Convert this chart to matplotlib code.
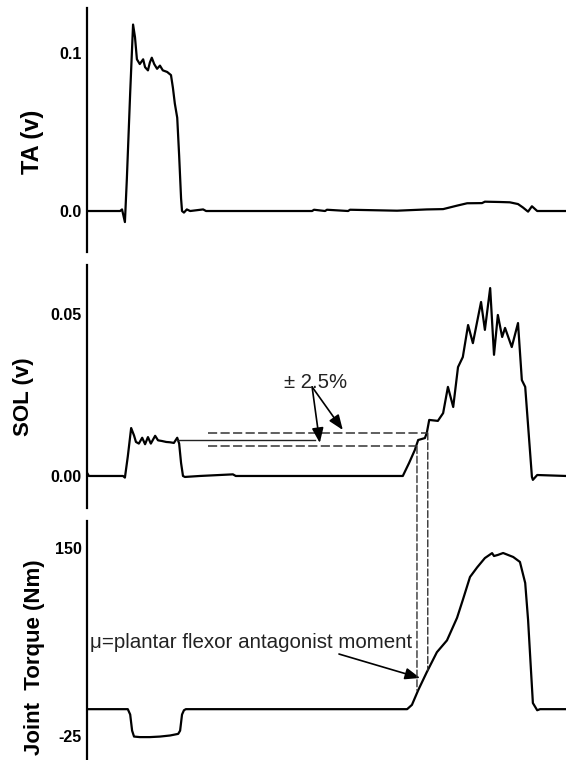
import matplotlib
matplotlib.use("Agg")
import matplotlib.pyplot as plt
from matplotlib.patches import ConnectionPatch

plt.rcParams['font.family'] = ['Liberation Sans', 'DejaVu Sans']

# time (s) and signal values
ta_t = [0.00, 0.69, 0.73, 0.79, 0.83, 0.90, 0.96, 1.00, 1.04, 1.10, 1.17, 1.21, 1.27, 1.31,
        1.35, 1.40, 1.46, 1.52, 1.58, 1.67, 1.75, 1.79, 1.83, 1.88, 1.92, 1.96, 1.98, 2.02,
        2.08, 2.15, 2.42, 2.48, 4.69, 4.73, 4.96, 5.00, 5.44, 5.48, 6.46, 7.08, 7.42, 7.71,
        7.92, 8.23, 8.29, 8.60, 8.81, 8.98, 9.08, 9.19, 9.27, 9.38, 9.98]
ta_v = [0.0, 0.0, 0.001, -0.007, 0.02, 0.075, 0.118, 0.11, 0.096, 0.093, 0.096, 0.091, 0.089,
        0.094, 0.097, 0.093, 0.090, 0.092, 0.089, 0.088, 0.086, 0.078, 0.068, 0.059, 0.035,
        0.008, 0.0, -0.001, 0.001, 0.0, 0.001, 0.0, 0.0, 0.0008, 0.0, 0.0008, 0.0, 0.0008,
        0.0002, 0.001, 0.0012, 0.0034, 0.0049, 0.005, 0.0059, 0.0057, 0.0055, 0.0044, 0.0023,
        -0.0004, 0.003, 0.0, 0.0]

sol_t = [0.00, 0.04, 0.75, 0.79, 0.85, 0.92, 0.98, 1.02, 1.08, 1.15, 1.21, 1.27, 1.33, 1.42,
         1.48, 1.56, 1.65, 1.73, 1.81, 1.88, 1.92, 1.96, 2.00, 2.04, 2.35, 3.04, 3.10, 6.58,
         6.71, 6.83, 6.90, 7.04, 7.08, 7.13, 7.31, 7.42, 7.52, 7.63, 7.73, 7.83, 7.94, 8.04,
         8.21, 8.29, 8.40, 8.48, 8.56, 8.65, 8.71, 8.85, 8.98, 9.06, 9.13, 9.27, 9.29, 9.38, 9.98]
sol_v = [0.001, 0.0, 0.0, -0.0005, 0.006, 0.0148, 0.0125, 0.0105, 0.0100, 0.0118, 0.0098,
         0.0120, 0.0100, 0.0124, 0.0110, 0.0108, 0.0105, 0.0104, 0.0102, 0.0118, 0.0100, 0.004,
         0.0, -0.0003, 0.0, 0.0005, 0.0, 0.0, 0.004, 0.008, 0.0111, 0.0117, 0.0133, 0.0173,
         0.0170, 0.0194, 0.0275, 0.0213, 0.0336, 0.0367, 0.0466, 0.0410, 0.0537, 0.0451, 0.058,
         0.0374, 0.0497, 0.0429, 0.0457, 0.0398, 0.0472, 0.0296, 0.0275, -0.0003, -0.0012,
         0.0003, 0.0]

tq_t = [0.00, 0.85, 0.90, 0.94, 0.98, 1.10, 1.31, 1.52, 1.73, 1.90, 1.94, 1.98, 2.02, 2.06,
        6.67, 6.77, 6.90, 7.08, 7.29, 7.50, 7.71, 7.83, 7.98, 8.13, 8.29, 8.44, 8.48, 8.56,
        8.67, 8.88, 9.02, 9.13, 9.19, 9.25, 9.29, 9.38, 9.44, 9.98]
tq_v = [0, 0, -5, -20, -25.5, -26, -26, -25.5, -24.5, -23, -20, -5, -1, 0,
        0, 4, 17.6, 34.5, 53, 64, 85, 101.6, 123, 132, 140.6, 145.2, 142.5, 143.5,
        145.3, 141.6, 137, 117.4, 83, 36.4, 5.7, -1, 0, 0]

ta_ticks = [0.0, 0.1]
ta_labels = ['0.0', '0.1']
sol_ticks = [0.0, 0.05]
sol_labels = ['0.00', '0.05']
tq_ticks = [-25, 150]
tq_labels = ['-25', '150']

# EMG threshold band and onset marks
band_mid = 0.0111
band_lo = 0.0091
band_hi = 0.0133
onset_lo_t = 6.875
onset_hi_t = 7.10

fig = plt.figure(figsize=(5.66, 7.6), dpi=100)
ax1 = fig.add_axes([0.1537, 0.6684, 0.8463, 0.3211])
ax2 = fig.add_axes([0.1537, 0.3316, 0.8463, 0.3197])
ax3 = fig.add_axes([0.1537, 0.0, 0.8463, 0.3145])

panels = [
    (ax1, ta_t, ta_v, (-0.02595, 0.12848), ta_ticks, ta_labels),
    (ax2, sol_t, sol_v, (-0.00988, 0.06512), sol_ticks, sol_labels),
    (ax3, tq_t, tq_v, (-47.3, 175.1), tq_ticks, tq_labels),
]
for ax, t, v, ylim, ticks, labels in panels:
    ax.plot(t, v, color='black', lw=1.6, solid_joinstyle='round')
    ax.set_xlim(0, 9.98)
    ax.set_ylim(*ylim)
    ax.set_yticks(ticks)
    ax.set_yticklabels(labels, fontsize=11.5, fontweight='bold')
    for s in ['top', 'right', 'bottom']:
        ax.spines[s].set_visible(False)
    ax.spines['left'].set_linewidth(1.6)
    ax.tick_params(axis='y', length=0, pad=4)
    ax.set_xticks([])
    ax.patch.set_visible(False)

# y labels
fig.text(32 / 566, 1 - 142 / 760, 'TA (v)', rotation=90, ha='center', va='center',
         fontsize=17, fontweight='bold')
fig.text(24 / 566, 1 - 397 / 760, 'SOL (v)', rotation=90, ha='center', va='center',
         fontsize=16, fontweight='bold')
fig.text(35 / 566, 1 - 657 / 760, 'Joint  Torque (Nm)', rotation=90, ha='center',
         va='center', fontsize=16, fontweight='bold')

# threshold lines on SOL
ax2.plot([1.875, 4.75], [band_mid, band_mid], color='#222222', lw=1.0)
ax2.plot([2.52, onset_hi_t], [band_hi, band_hi], color='#333333', lw=1.1,
         linestyle=(0, (6, 2.2)))
ax2.plot([2.52, onset_lo_t], [band_lo, band_lo], color='#333333', lw=1.1,
         linestyle=(0, (6, 2.2)))

ax2.text(4.77, 0.029, '\u00b1 2.5%', ha='center', va='center', fontsize=14.6, color='#222222')
for head in [(4.85, 0.0102), (5.33, 0.0142)]:
    ax2.annotate('', xy=head, xytext=(4.69, 0.0275),
                 arrowprops=dict(arrowstyle='-|>,head_length=0.9,head_width=0.35',
                                 color='black', lw=1.2, shrinkA=0, shrinkB=0))

# onset drop lines from SOL to torque
for t0, v_sol, v_tq in [(onset_lo_t, band_lo, 17.6), (onset_hi_t, band_hi, 36.0)]:
    con = ConnectionPatch(xyA=(t0, v_sol), coordsA=ax2.transData,
                          xyB=(t0, v_tq), coordsB=ax3.transData,
                          color='#333333', lw=1.0, linestyle=(0, (5, 2)))
    fig.add_artist(con)

ax3.text(0.06, 56.9, '\u03bc=plantar flexor antagonist moment', ha='left', va='baseline',
         fontsize=14.8, color='#222222')
ax3.annotate('', xy=(6.94, 29.0), xytext=(5.25, 51.3),
             arrowprops=dict(arrowstyle='-|>,head_length=0.9,head_width=0.35',
                             color='black', lw=1.2, shrinkA=0, shrinkB=0))

fig.savefig('out.png', dpi=100)
